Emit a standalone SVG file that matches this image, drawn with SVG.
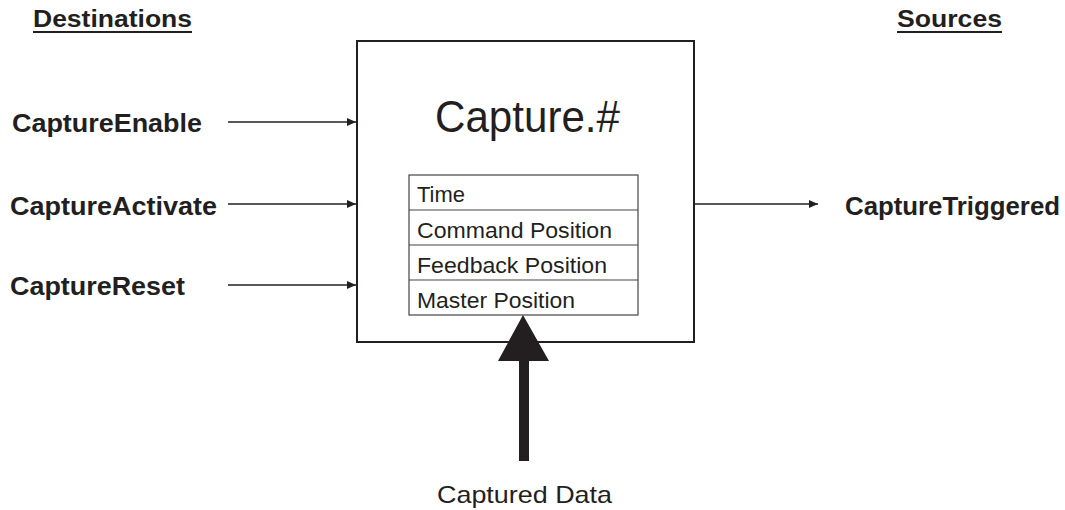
<svg xmlns="http://www.w3.org/2000/svg" width="1065" height="510" viewBox="0 0 1065 510">
<style>
.b{font-family:"Liberation Sans",Arial,sans-serif;font-weight:bold;font-size:25px;fill:#231f20}
.r{font-family:"Liberation Sans",Arial,sans-serif;font-size:22px;fill:#231f20}
.h{font-size:23px}
.big{font-size:44px}
.cd{font-size:24px}
.ln{stroke:#231f20;stroke-width:1.5;fill:none}
.tb{stroke:#444;stroke-width:1.2;fill:#fff}
</style>
<defs>
<marker id="ah" markerWidth="10" markerHeight="8" refX="9" refY="4" orient="auto" markerUnits="userSpaceOnUse">
<path d="M0,0 L9,4 L0,8 Z" fill="#231f20"/>
</marker>
</defs>
<rect width="1065" height="510" fill="#fff"/>
<g id="headings">
<text class="b h" x="33" y="27" textLength="159" lengthAdjust="spacingAndGlyphs">Destinations</text>
<rect x="33" y="31" width="159" height="2" fill="#231f20"/>
<text class="b h" x="897" y="27" textLength="105" lengthAdjust="spacingAndGlyphs">Sources</text>
<rect x="897" y="31" width="105" height="2" fill="#231f20"/>
</g>
<g id="capture">
<rect x="357" y="41" width="337" height="301" fill="#fff" stroke="#231f20" stroke-width="2"/>
<text class="r big" x="435" y="132" textLength="185" lengthAdjust="spacingAndGlyphs">Capture.#</text>
<g id="table">
<rect class="tb" x="409" y="175" width="229" height="140"/>
<line class="tb" x1="409" y1="210" x2="638" y2="210"/>
<line class="tb" x1="409" y1="245" x2="638" y2="245"/>
<line class="tb" x1="409" y1="280" x2="638" y2="280"/>
<text class="r" x="417" y="202" textLength="48" lengthAdjust="spacingAndGlyphs">Time</text>
<text class="r" x="417" y="238" textLength="195" lengthAdjust="spacingAndGlyphs">Command Position</text>
<text class="r" x="417" y="273" textLength="190" lengthAdjust="spacingAndGlyphs">Feedback Position</text>
<text class="r" x="417" y="308" textLength="158" lengthAdjust="spacingAndGlyphs">Master Position</text>
</g>
</g>
<g id="n-enable"><text class="b" x="12" y="132" textLength="190" lengthAdjust="spacingAndGlyphs">CaptureEnable</text></g>
<g id="n-activate"><text class="b" x="10" y="215" textLength="207" lengthAdjust="spacingAndGlyphs">CaptureActivate</text></g>
<g id="n-reset"><text class="b" x="10" y="295" textLength="175" lengthAdjust="spacingAndGlyphs">CaptureReset</text></g>
<g id="n-triggered"><text class="b" x="845" y="215" textLength="215" lengthAdjust="spacingAndGlyphs">CaptureTriggered</text></g>
<g id="n-data"><text class="r cd" x="437" y="503" textLength="175" lengthAdjust="spacingAndGlyphs">Captured Data</text></g>
<g id="connectors">
<line class="ln" x1="228" y1="122" x2="356" y2="122" marker-end="url(#ah)"/>
<line class="ln" x1="228" y1="204" x2="356" y2="204" marker-end="url(#ah)"/>
<line class="ln" x1="228" y1="285" x2="356" y2="285" marker-end="url(#ah)"/>
<line class="ln" x1="694" y1="204" x2="818" y2="204" marker-end="url(#ah)"/>
<path d="M523,315 L549,361 L529,361 L529,461 L519,461 L519,361 L498,361 Z" fill="#231f20"/>
</g>
</svg>
